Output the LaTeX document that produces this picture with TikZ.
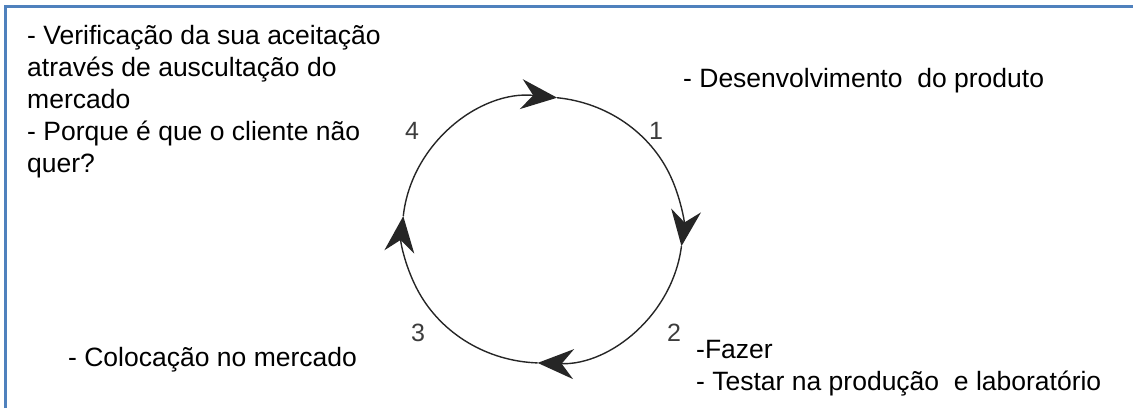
\documentclass[tikz,border=0pt]{standalone}
\usepackage{fontspec}
\setmainfont{Liberation Sans}
\usepackage{tikz}
\usetikzlibrary{arrows.meta}
\definecolor{frameblue}{RGB}{79,129,189}
\definecolor{numgray}{RGB}{60,60,60}

\begin{document}
\begin{tikzpicture}[x=1pt,y=1pt,
    txt/.style={anchor=base west,inner sep=0pt,align=left,
      font=\fontsize{26.5}{32}\selectfont},
    num/.style={inner sep=0pt,text=numgray,font=\fontsize{25}{28}\selectfont},
    cyc/.style={line width=1.4pt,black!85,
      -{Stealth[length=36pt,width=30pt,inset=12pt]}}]
  \useasboundingbox (0,0) rectangle (1133,408);
  % frame (top and left edge only)
  \draw[frameblue,line width=3pt] (5,0) -- (5,401) -- (1133,401);
  % the cycle
  \coordinate (c) at (542.5,178);
  \foreach \a/\b in {174/84, 84/-7, -7/-92, -92/-186}
    \draw[cyc] (c) ++(\a:140pt and 133pt)
      arc[start angle=\a, end angle=\b, x radius=140pt, y radius=133pt];
  % step numbers
  \node[num] (n1) at (656,277) {1};
  \node[num] (n2) at (674,75) {2};
  \node[num] (n3) at (418,75) {3};
  \node[num] (n4) at (412,277) {4};
  % texts of the steps (base = last line)
  \node[txt] (t1) at (683,320) {- Desenvolvimento\ \ do produto};
  \node[txt] (t2) at (696,18) {-Fazer\\- Testar na produção\ \ e laboratório};
  \node[txt] (t3) at (68,42) {- Colocação no mercado};
  \node[txt] (t4) at (27,236) {- Verificação da sua aceitação\\através de auscultação do\\mercado\\- Porque é que o cliente não\\quer?};
\end{tikzpicture}
\end{document}
